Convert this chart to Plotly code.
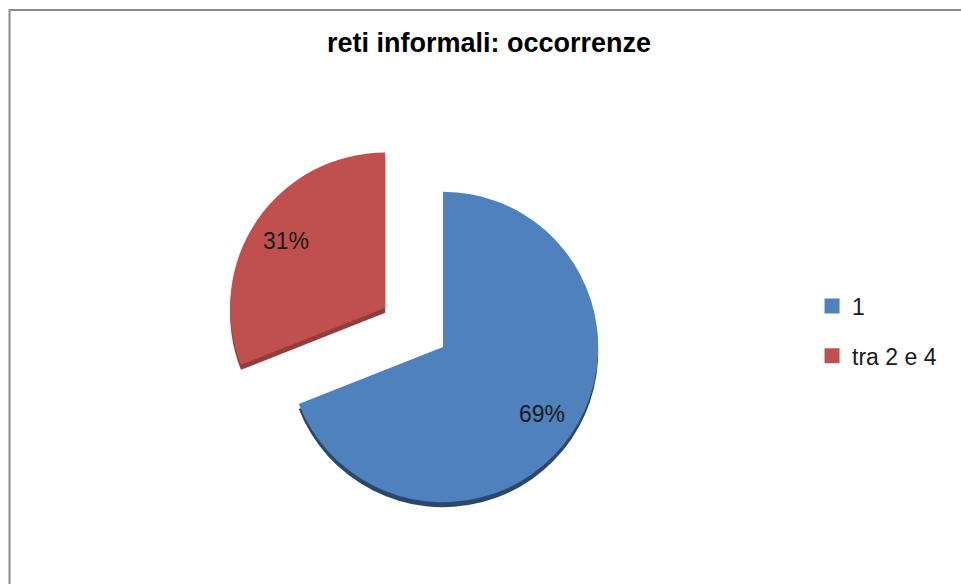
import math
import plotly.graph_objects as go

# Chart data
categories = ["1", "tra 2 e 4"]
shares = [69, 31]
slice_colors = ["#4F81BD", "#C0504D"]
side_colors = ["#2A486F", "#943C39"]
pull_out = [0, 0.45]

W, H = 961, 584
FONT = "Liberation Sans, Arial, sans-serif"

# square pie box, centred on the un-pulled pie centre
cx, cy, box = 443, 347, 450
dom_x = [(cx - box / 2) / W, (cx + box / 2) / W]
dom_y = [1 - (cy + box / 2) / H, 1 - (cy - box / 2) / H]
depth = 5 / H

fig = go.Figure()

# darker copy underneath, shifted down, gives the pie its thickness
fig.add_trace(go.Pie(
    labels=categories, values=shares, sort=False, direction="clockwise",
    rotation=0, pull=pull_out,
    marker=dict(colors=side_colors, line=dict(width=0)),
    textinfo="none", hoverinfo="skip", showlegend=False,
    domain=dict(x=dom_x, y=[dom_y[0] - depth, dom_y[1] - depth]),
))

# top face
fig.add_trace(go.Pie(
    labels=categories, values=shares, sort=False, direction="clockwise",
    rotation=0, pull=pull_out,
    marker=dict(colors=slice_colors, line=dict(width=0)),
    textinfo="none", showlegend=False,
    domain=dict(x=dom_x, y=dom_y),
))

# percentage labels on each slice, placed along the slice bisector
radius = box / (2 * (1 + max(pull_out)))
total = sum(shares)
start = 0.0
annotations = []
for v, p in zip(shares, pull_out):
    frac = v / total
    mid = 2 * math.pi * (start + frac / 2)  # clockwise from 12 o'clock
    ux, uy = math.sin(mid), math.cos(mid)
    dist = radius * (p + 0.77)
    px = cx + ux * dist
    py = cy - uy * dist
    annotations.append(dict(
        x=px / W, y=1 - py / H, xref="paper", yref="paper",
        xanchor="center", yanchor="middle",
        text=f"{frac:.0%}", showarrow=False,
        font=dict(family=FONT, size=23, color="#1a1a1a"),
    ))
    start += frac

# legend entries
for name, col in zip(categories, slice_colors):
    fig.add_trace(go.Scatter(
        x=[None], y=[None], mode="markers", name=name, legendgroup=name,
        marker=dict(symbol="square", size=15, color=col),
    ))

fig.update_layout(
    width=W, height=H,
    margin=dict(l=0, r=0, t=0, b=0),
    paper_bgcolor="white", plot_bgcolor="white",
    title=dict(
        text="<b>reti informali: occorrenze</b>",
        x=489 / W, xanchor="center", y=1 - 43 / H, yanchor="middle",
        font=dict(family=FONT, size=27, color="#000000"),
    ),
    legend=dict(
        x=0.845, xanchor="left", y=1 - 331 / H, yanchor="middle",
        traceorder="grouped", tracegroupgap=17,
        font=dict(family=FONT, size=23, color="#1a1a1a"),
        itemclick=False, itemdoubleclick=False,
    ),
    annotations=annotations,
    xaxis=dict(visible=False), yaxis=dict(visible=False),
    shapes=[dict(
        type="rect", xref="paper", yref="paper",
        x0=9.5 / W, x1=1.05, y0=-0.05, y1=1 - 10 / H,
        line=dict(color="#8C8C8C", width=2), fillcolor="rgba(0,0,0,0)",
        layer="above",
    )],
)

fig.write_html("out.html")
